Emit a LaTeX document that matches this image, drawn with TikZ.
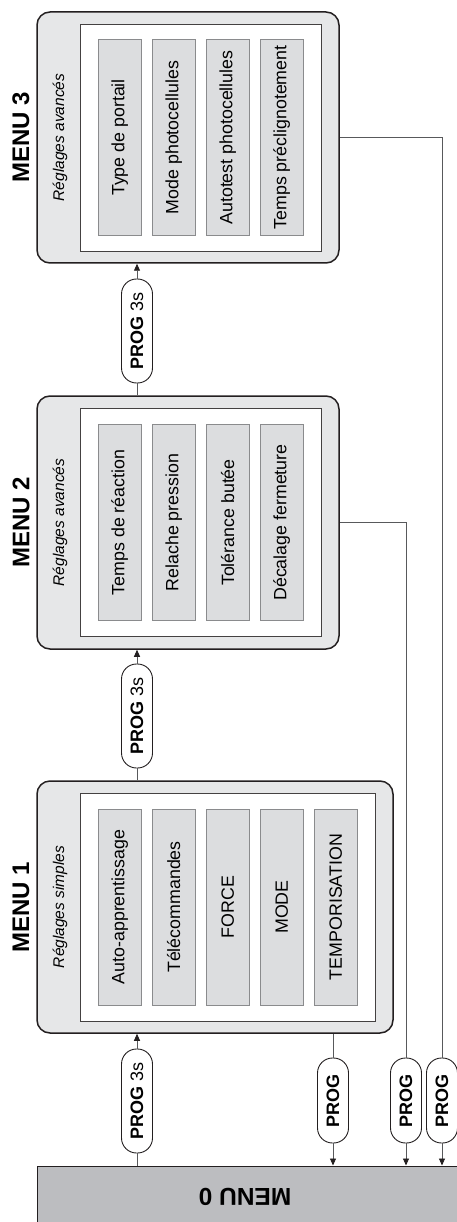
\documentclass[tikz,border=0pt]{standalone}
\usepackage{fontspec}
\setmainfont{Liberation Sans}
\usepackage{xcolor}
\definecolor{noir}{HTML}{231F20}
\definecolor{fondMenu}{HTML}{E6E7E8}
\definecolor{fondItem}{HTML}{DCDDDF}
\definecolor{bordItem}{HTML}{8A8B8D}
\definecolor{fondZero}{HTML}{BCBDC0}
\definecolor{ligne}{HTML}{58595B}
\usetikzlibrary{arrows.meta}

\begin{document}
\begin{tikzpicture}[x=1pt,y=-1pt,
 menu/.style={draw=noir,line width=1.5pt,fill=fondMenu,rounded corners=13pt,inner sep=0pt},
 cadre/.style={draw=noir!85,line width=0.9pt,fill=white,inner sep=0pt},
 item/.style={draw=bordItem,line width=0.7pt,fill=fondItem,rotate=90,inner sep=0pt,
 minimum width=196pt,minimum height=43.5pt,font=\fontsize{17.8}{18}\selectfont},
 titre/.style={rotate=90,font=\bfseries\fontsize{24}{24}\selectfont},
 sous/.style={rotate=90,font=\itshape\fontsize{15.5}{16}\selectfont},
 pill/.style={draw=noir,line width=0.9pt,fill=white,rotate=90,rounded corners=15pt,
 minimum height=31pt,minimum width=85pt,inner sep=0pt,font=\bfseries\fontsize{18}{18}\selectfont},
 pilllong/.style={pill,minimum width=104pt},
 lien/.style={draw=ligne,line width=0.9pt},
 arr/.style={lien,-{Triangle[length=7pt,width=6pt,color=noir]}}]
 \useasboundingbox (0,0) rectangle (457,1222);
 % menu 0
 \node[draw=noir,line width=1pt,fill=fondZero,minimum width=440pt,minimum height=74pt] (m0) at (257,1203) {};
 \node[rotate=180,font=\bfseries\fontsize{24.5}{25}\selectfont] (m0label) at (245,1197) {MENU 0};
 % menu 1
 \node[menu,minimum width=356pt,minimum height=252pt] (m1) at (215,907) {};
 \node[cadre,minimum width=295pt,minimum height=228pt] (c1) at (227.5,907) {};
 \node[titre] (t1) at (21,907) {MENU 1};
 \node[sous] (s1) at (60,907) {Réglages simples};
 \node[item] (auto) at (119.75,907) {Auto-apprentissage};
 \node[item] (telec) at (173.75,907) {Télécommandes};
 \node[item] (force) at (227.75,907) {FORCE};
 \node[item] (mode) at (281.75,907) {MODE};
 \node[item] (tempo) at (335.75,907) {TEMPORISATION};
 % menu 2
 \node[menu,minimum width=302pt,minimum height=253pt] (m2) at (188,522.5) {};
 \node[cadre,minimum width=241pt,minimum height=228pt] (c2) at (200.5,522.5) {};
 \node[titre] (t2) at (21,522.5) {MENU 2};
 \node[sous] (s2) at (60,522.5) {Réglages avancés};
 \node[item] (reac) at (119.75,522.5) {Temps de réaction};
 \node[item] (relache) at (173.75,522.5) {Relache pression};
 \node[item] (butee) at (227.75,522.5) {Tolérance butée};
 \node[item] (decal) at (281.75,522.5) {Décalage fermeture};
 % menu 3
 \node[menu,minimum width=302pt,minimum height=251pt] (m3) at (188,137.5) {};
 \node[cadre,minimum width=241pt,minimum height=227pt] (c3) at (200.5,137.5) {};
 \node[titre] (t3) at (21,137.5) {MENU 3};
 \node[sous] (s3) at (60,137.5) {Réglages avancés};
 \node[item] (portail) at (119.75,137.5) {Type de portail};
 \node[item] (modephoto) at (173.75,137.5) {Mode photocellules};
 \node[item] (autotest) at (227.75,137.5) {Autotest photocellules};
 \node[item] (precl) at (281.75,137.5) {Temps préclignotement};
 % touches PROG
 \node[pilllong] (p01) at (137,1101) {PROG \mdseries 3s};
 \node[pilllong] (p12) at (137,716) {PROG \mdseries 3s};
 \node[pilllong] (p23) at (137,331) {PROG \mdseries 3s};
 \node[pill] (q1) at (333,1100.5) {PROG};
 \node[pill] (q2) at (406,1100.5) {PROG};
 \node[pill] (q3) at (442,1100.5) {PROG};
 % montee d'un menu
 \draw[lien] (m0.north -| p01) -- (p01.west);
 \draw[arr] (p01.east) -- (m1.south -| p01);
 \draw[lien] (m1.north -| p12) -- (p12.west);
 \draw[arr] (p12.east) -- (m2.south -| p12);
 \draw[lien] (m2.north -| p23) -- (p23.west);
 \draw[arr] (p23.east) -- (m3.south -| p23);
 % retour au menu 0
 \draw[lien] (m1.south -| q1) -- (q1.east);
 \draw[arr] (q1.west) -- (m0.north -| q1);
 \draw[lien] (m2.east) -| (q2.east);
 \draw[arr] (q2.west) -- (m0.north -| q2);
 \draw[lien] (m3.east) -| (q3.east);
 \draw[arr] (q3.west) -- (m0.north -| q3);
\end{tikzpicture}
\end{document}
